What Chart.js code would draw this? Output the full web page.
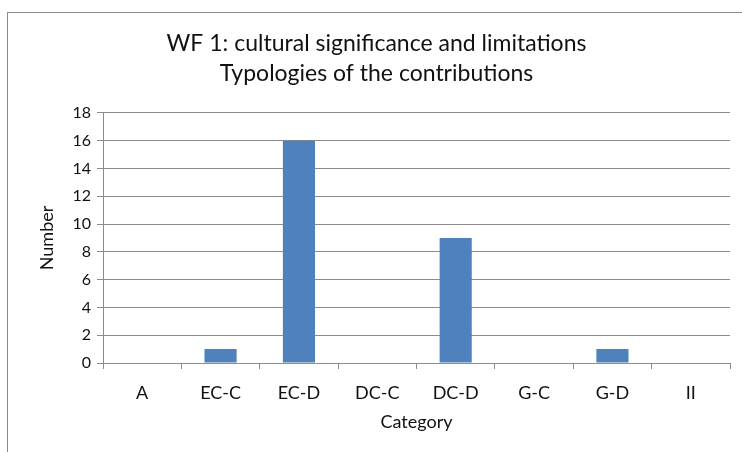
<!DOCTYPE html>
<html>
<head>
<meta charset="utf-8">
<script src="https://cdn.jsdelivr.net/npm/chart.js@4"></script>
<style>
  html, body { margin: 0; padding: 0; background: #fff; }
  #wrap { position: relative; width: 742px; height: 452px; }
</style>
</head>
<body>
<div id="wrap"><canvas id="chart" width="742" height="452"></canvas></div>
<script>
// Data
const categories = ['A', 'EC-C', 'EC-D', 'DC-C', 'DC-D', 'G-C', 'G-D', 'II'];
const counts = [0, 1, 16, 0, 9, 0, 1, 0];
const titleLines = ['WF 1: cultural significance and limitations', 'Typologies of the contributions'];

const FONT = 'Lato, "Noto Sans", sans-serif';
const GRID = '#8c8c8c';

// Thin frame around the chart, like the spreadsheet chart border
const framePlugin = {
  id: 'frame',
  beforeDraw(chart) {
    const ctx = chart.ctx;
    ctx.save();
    ctx.fillStyle = '#fff';
    ctx.fillRect(0, 0, chart.width, chart.height);
    ctx.strokeStyle = '#8c8c8c';
    ctx.lineWidth = 1;
    ctx.strokeRect(7.5, 12.5, 900, 600);
    ctx.restore();
  }
};

new Chart(document.getElementById('chart'), {
  type: 'bar',
  data: {
    labels: categories,
    datasets: [{
      label: 'Number',
      data: counts,
      backgroundColor: '#4f81bd',
      borderWidth: 0,
      barPercentage: 0.41,
      categoryPercentage: 1
    }]
  },
  options: {
    responsive: false,
    animation: false,
    layout: { padding: { left: 23, right: 12, top: 0, bottom: 0 } },
    plugins: {
      legend: { display: false },
      tooltip: { enabled: false },
      title: {
        display: true,
        text: titleLines,
        color: '#111',
        font: { family: FONT, size: 23, weight: 'normal', lineHeight: 1.304 },
        padding: { top: 29, bottom: 24 }
      }
    },
    scales: {
      x: {
        afterFit(scale) { scale.height = 89; },
        grid: { display: true, drawOnChartArea: false, drawTicks: true, tickLength: 6, color: GRID },
        border: { color: GRID },
        ticks: { color: '#111', font: { family: FONT, size: 18 }, padding: 13, maxRotation: 0 },
        title: {
          display: true,
          text: 'Category',
          color: '#111',
          font: { family: FONT, size: 18 },
          padding: { top: 0, bottom: 19 }
        }
      },
      y: {
        min: 0,
        max: 18,
        afterFit(scale) { scale.width = 80; },
        grid: { color: GRID, tickLength: 6 },
        border: { color: GRID },
        ticks: { stepSize: 2, color: '#111', font: { family: FONT, size: 16 }, padding: 6 },
        title: {
          display: true,
          text: 'Number',
          color: '#111',
          font: { family: FONT, size: 18 },
          padding: { top: 13, bottom: 0 }
        }
      }
    }
  },
  plugins: [framePlugin]
});
</script>
</body>
</html>
